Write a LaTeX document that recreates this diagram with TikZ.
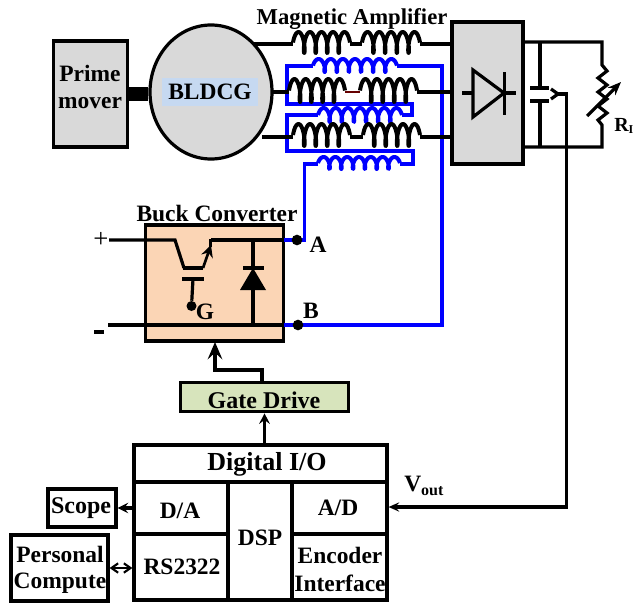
\documentclass[tikz,border=0pt]{standalone}
\usepackage{fontspec}
\setmainfont{Liberation Serif}
\usetikzlibrary{arrows.meta,shapes.geometric,calc}
\definecolor{panelgrey}{HTML}{D9D9D9}
\definecolor{peach}{HTML}{FBD5B5}
\definecolor{palegreen}{HTML}{D7E4BC}
\definecolor{paleblue}{HTML}{C6D9F1}
\definecolor{wireblue}{HTML}{0000FF}
\tikzset{
  wire/.style={line width=2.4pt,line join=miter,black},
  bluewire/.style={line width=2.4pt,line join=miter,wireblue},
  box/.style={draw=black,line width=2.4pt,inner sep=0pt,align=center},
  lbl/.style={inner sep=0pt,align=center,font=\fontsize{17.6}{26}\selectfont\bfseries},
  dot/.style={circle,fill=black,inner sep=0pt,minimum size=8pt},
  tip/.style={-{Stealth[length=8pt,width=8pt,inset=3pt]}},
  bigtip/.style={-{Stealth[length=13pt,width=11pt,inset=5pt]}},
}
% \coilh{name}{x0}{x1}{baseline}{arches}{up}{down}{style}
\newcommand{\coilh}[8]{%
  \pgfmathsetmacro{\coilr}{2.6}%
  \pgfmathsetmacro{\coilT}{360*(#5-1)+180}%
  \pgfmathsetmacro{\coilc}{((#3)-(#2)-2*\coilr)/\coilT}%
  \pgfmathsetmacro{\coilm}{((#6)+(#7))/2}%
  \pgfmathsetmacro{\coils}{((#6)-(#7))/2}%
  \draw[#8,line width=3pt,line join=round] plot[domain=0:\coilT,samples=\the\numexpr 24*#5\relax,variable=\t,smooth]
    ({#2+\coilc*\t+\coilr*sin(\t-90)+\coilr},{#4-\coils-\coilm*sin(\t)});
  \coordinate (#1-a) at (#2,#4);
  \coordinate (#1-b) at (#3,#4);
}
\begin{document}
\begin{tikzpicture}[x=0.75pt,y=-0.75pt]
\useasboundingbox (0,0) rectangle (634,604);

% free ends of the generator leads
\coordinate (g1) at (245,44);
\coordinate (g2) at (262,92);
\coordinate (g3) at (262,137);

% blue control winding
\coilh{u}{313}{397}{66}{7}{7}{6}{wireblue}
\coilh{v}{318}{402}{115}{7}{7}{7}{wireblue}
\coilh{w}{318}{400}{164}{7}{7}{5}{wireblue}
\coordinate (A) at (297,240);
\coordinate (B) at (298,325);
\draw[bluewire] (u-a) -- (287,66) -- (287,104) -- (412,104) -- (412,115) -- (v-b);
\draw[bluewire] (v-a) -- (287,115) -- (287,151) -- (413,151) -- (413,164) -- (w-b);
\draw[bluewire] (w-a) -- (304.5,164) -- (304.5,240) -- (289,240);
\draw[bluewire] (u-b) -- (442,66) -- (442,325) -- (289,325);

% black coils
\coilh{a1}{293}{350}{44}{5}{12}{9}{black}
\coilh{a2}{362}{420}{44}{5}{12}{9}{black}
\coilh{b1}{289}{345}{92}{5}{13}{10}{black}
\coilh{b2}{360}{417}{92}{5}{13}{10}{black}
\coilh{c1}{293}{350}{137}{5}{13}{9}{black}
\coilh{c2}{363}{420}{137}{5}{13}{9}{black}

% rectifier
\node[box,fill=panelgrey,minimum width=53.25pt,minimum height=106.5pt] (rect) at (487.5,93) {};

% black leads
\draw[wire] (g1) -- (a1-a);
\draw[wire] (a1-b) -- (a2-a);
\draw[wire] (a2-b) -- (452,44);
\draw[wire] (g2) -- (b1-a);
\draw[line width=1.5pt,black!60!red] (b1-b) -- (b2-a);
\draw[wire] (b2-b) -- (452,92);
\draw[wire] (g3) -- (c1-a);
\draw[wire] (c1-b) -- (c2-a);
\draw[wire] (c2-b) -- (452,137);

% prime mover and generator
\node[box,fill=panelgrey,minimum width=56pt,minimum height=79.5pt] (prime) at (90.5,94) {};
\node[lbl] at (90,73) {Prime};
\node[lbl] at (90,103) {mover};
\node[draw=black,line width=2.4pt,fill=panelgrey,ellipse,inner sep=0pt,minimum width=91.5pt,minimum height=100.5pt] (motor) at (211,92) {};
\draw[black,line width=10.5pt] (prime.east) -- (motor.west |- prime.east);
\node[lbl,fill=paleblue,minimum width=72pt,minimum height=21pt] (bldcg) at (210,92) {BLDCG};
\node[lbl,font=\fontsize{17}{20}\selectfont\bfseries] (magamp) at (352,19) {Magnetic Amplifier};

% diode in rectifier
\draw[line width=2.4pt,black] (473,70) -- (473,117) -- (504,93) -- cycle;
\draw[line width=2.4pt,black] (504.5,72) -- (504.5,115);
\draw[line width=2.4pt,black] (462,93) -- (473,93) (504,93) -- (516,93);

% output bus, capacitor, load
\coordinate (rt) at (523,42);
\coordinate (rb) at (523,147);
\coordinate (lt) at (602,42);
\coordinate (lb) at (602,147);
\draw[wire] (rt) -- (lt) -- (602,65) -- (607,71) -- (598,78) -- (607,85) -- (598,92) -- (607,99) -- (598,106) -- (607,113) -- (598,120) -- (602,125) -- (lb) -- (rb);
\draw[wire] (540,42) -- (540,88);
\draw[wire] (530,88) -- (549,88);
\draw[wire] (530,101) -- (549,101);
\draw[wire] (540,101) -- (540,147);
\draw[wire] (551,89) -- (558,94) -- (551,99);
\draw[wire,-{Stealth[length=10pt,width=8pt]}] (587,116) -- (621,82);
\node[lbl,anchor=west,font=\fontsize{15}{18}\selectfont\bfseries] (rl) at (614,126) {R\raisebox{-2pt}{\fontsize{9}{10}\selectfont I}};

% buck converter
\node[box,fill=peach,minimum width=104pt,minimum height=87pt] (buck) at (214.5,283) {};
\node[lbl] (buckt) at (217,213) {Buck Converter};
\coordinate (plus) at (109,240);
\coordinate (minus) at (108,325);
\draw[wire] (plus) -- (175,240) -- (184,268);
\draw[wire] (211,240) -- (284,240);
\draw[wire] (minus) -- (284,325);
\draw[bluewire] (284,240) -- (A);
\draw[bluewire] (284,325) -- (B);
\node[dot] (dotA) at (A) {};
\node[dot] (dotB) at (B) {};
\draw[wire] (183,268) -- (203,268);
\draw[line width=2pt,-{Stealth[length=9pt,width=9pt,inset=3pt]}] (203,268) -- (211,245);
\draw[wire] (210.5,239) -- (210.5,247);
\draw[wire] (182,279) -- (204,279);
\node[dot,minimum size=7.5pt] (gdot) at (191.5,306) {};
\draw[wire] (193,279) -- (gdot);
\draw[wire] (253,240) -- (253,268) (253,289) -- (253,325);
\draw[wire] (243,268) -- (264,268);
\fill[black] (253,268) -- (240,290) -- (266,290) -- cycle;
\node[lbl] (Gl) at (205,312) {G};
\node[lbl] (Al) at (318,245) {A};
\node[lbl] (Bl) at (311,311) {B};
\node[lbl,font=\fontsize{20}{22}\selectfont] (pl) at (101,240) {+};
\fill[black] (94,330) rectangle (104,334);

% gate drive
\node[box,fill=palegreen,minimum width=126pt,minimum height=22pt] (gate) at (264.5,397) {};
\node[lbl,font=\fontsize{18}{20}\selectfont\bfseries] (gatel) at (264,400) {Gate Drive};
\draw[wire,bigtip] (262,382) -- (262,370) -- (215,370) -- (215,342);

% DSP board
\node[box,minimum width=189.75pt,minimum height=27.75pt] (dio) at (260.5,463.5) {};
\node[box,minimum width=70.5pt,minimum height=39pt] (da) at (181,508) {};
\node[box,minimum width=70.5pt,minimum height=49.5pt] (rs) at (181,567) {};
\node[box,minimum width=48pt,minimum height=88.5pt] (dsp) at (260,541) {};
\node[box,minimum width=71.25pt,minimum height=39pt] (ad) at (339.5,508) {};
\node[box,minimum width=71.25pt,minimum height=49.5pt] (enc) at (339.5,567) {};
\node[lbl,font=\fontsize{19.5}{24}\selectfont\bfseries] at (267,464) {Digital I/O};
\node[lbl] at (180,511) {D/A};
\node[lbl] at (182,567) {RS2322};
\node[lbl] at (260,538) {DSP};
\node[lbl] at (338,508) {A/D};
\node[lbl] at (340,555) {Encoder};
\node[lbl] at (340,583) {Interface};
\draw[wire,tip] (dio.north -| gate.south) -- (gate.south);

% peripherals
\node[box,minimum width=51pt,minimum height=28.5pt] (scope) at (82,508) {};
\node[lbl,font=\fontsize{18}{20}\selectfont\bfseries] at (81,508) {Scope};
\node[box,minimum width=72.75pt,minimum height=49.5pt] (pc) at (59.5,568) {};
\node[lbl] at (60,554) {Personal};
\node[lbl] at (60,583) {Compute};
\draw[wire,tip] (da.west |- scope.east) -- (scope.east);
\draw[line width=1.6pt,{Straight Barb[length=5pt,width=7pt]}-{Straight Barb[length=5pt,width=7pt]}] (pc.east) -- (rs.west |- pc.east);

% voltage feedback
\draw[wire,-{Stealth[length=8pt,width=7pt,inset=3pt]}] (558,94) -- (566.5,94) -- (566.5,507) -- (ad.east |- 0,507);
\node[lbl,anchor=west] (vout) at (404,486) {V\raisebox{-3pt}{\fontsize{12}{14}\selectfont out}};
\end{tikzpicture}
\end{document}
